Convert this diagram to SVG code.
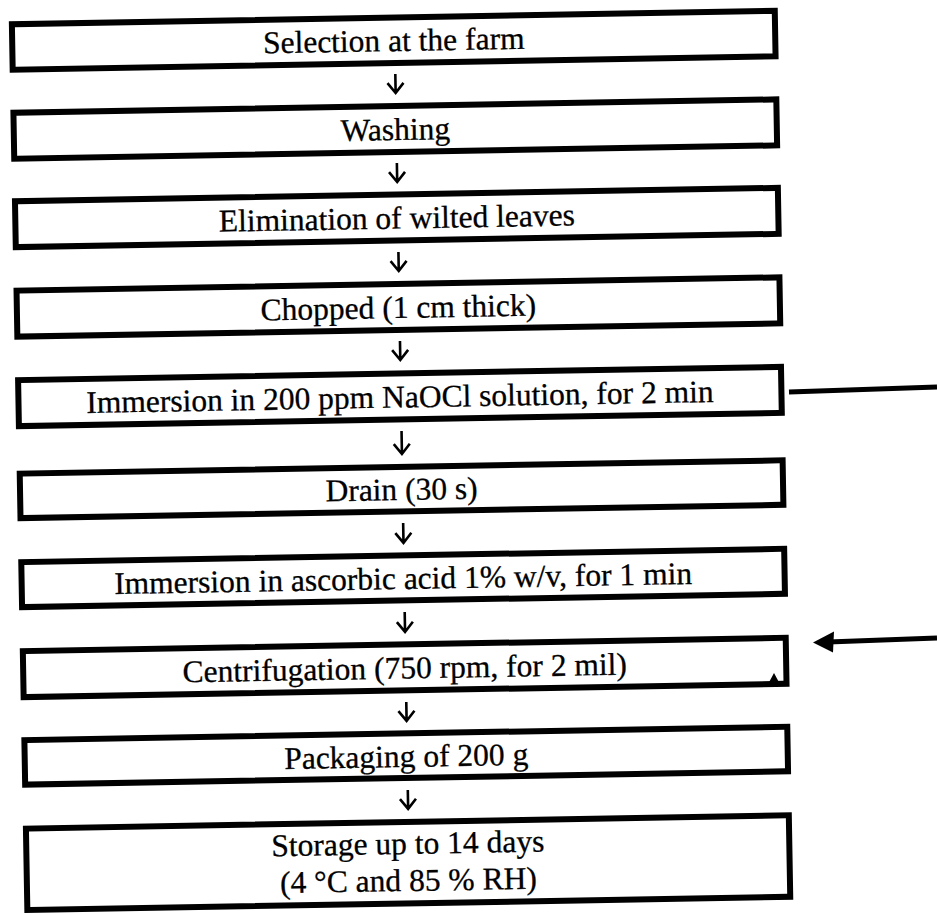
<svg xmlns="http://www.w3.org/2000/svg" width="937" height="915" viewBox="0 0 937 915">
<style>
.box{fill:#fff;stroke:#000;stroke-width:6;stroke-linejoin:miter}
.t{font-family:"Liberation Serif","Times New Roman",serif;font-size:31.5px;fill:#000;stroke:#000;stroke-width:0.3;text-anchor:middle}
.dn{fill:none;stroke:#000;stroke-width:2.6;stroke-linecap:butt;stroke-linejoin:miter}
.side{fill:none;stroke:#000;stroke-width:5}
</style>
<rect x="0" y="0" width="937" height="915" fill="#fff"/>
<g transform="rotate(-1 400 457)">
<g id="n1"><rect class="box" x="19.5" y="17.5" width="763" height="45.5"/><text class="t" x="401" y="51">Selection at the farm</text></g>
<g id="n2"><rect class="box" x="19.5" y="106" width="763" height="46"/><text class="t" x="401" y="140">Washing</text></g>
<g id="n3"><rect class="box" x="19.5" y="194.5" width="763" height="46"/><text class="t" x="401" y="228.5">Elimination of wilted leaves</text></g>
<g id="n4"><rect class="box" x="19.5" y="284" width="763" height="46"/><text class="t" x="401" y="318">Chopped (1 cm thick)</text></g>
<g id="n5"><rect class="box" x="19.5" y="373.5" width="763" height="46"/><text class="t" x="401" y="407.5">Immersion in 200 ppm NaOCl solution, for 2 min</text></g>
<g id="n6"><rect class="box" x="19.5" y="467" width="763" height="44.5"/><text class="t" x="401" y="500">Drain (30 s)</text></g>
<g id="n7"><rect class="box" x="19.5" y="555.5" width="763" height="45"/><text class="t" x="401" y="589">Immersion in ascorbic acid 1% w/v, for 1 min</text></g>
<g id="n8"><rect class="box" x="19.5" y="644.5" width="763" height="46"/><text class="t" x="401" y="678.5">Centrifugation (750 rpm, for 2 mil)</text></g>
<g id="n9"><rect class="box" x="19.5" y="733.5" width="763" height="44.5"/><text class="t" x="401" y="767">Packaging of 200 g</text></g>
<g id="n10"><rect class="box" x="19.5" y="822" width="763" height="81.5"/><text class="t" x="401" y="854">Storage up to 14 days</text><text class="t" x="401" y="891">(4 °C and 85 % RH)</text></g>
</g>
<g id="connectors">
<g transform="rotate(-1 400 457)">
<path class="dn" d="M402,74 V93 M394,83 L402,93 L410,83"/>
<path class="dn" d="M402,163 V182 M394,172 L402,182 L410,172"/>
<path class="dn" d="M402,252 V271 M394,261 L402,271 L410,261"/>
<path class="dn" d="M402,341 V360 M394,350 L402,360 L410,350"/>
<path class="dn" d="M402,431 V454 M394,444 L402,454 L410,444"/>
<path class="dn" d="M402,523 V543 M394,533 L402,543 L410,533"/>
<path class="dn" d="M402,612 V632 M394,622 L402,632 L410,622"/>
<path class="dn" d="M402,702 V721 M394,711 L402,721 L410,711"/>
<path class="dn" d="M402,790 V809 M394,799 L402,809 L410,799"/>
</g>
<line class="side" x1="789" y1="392" x2="937" y2="387"/>
<line class="side" x1="937" y1="638" x2="828" y2="642"/>
<polygon points="813,642.5 834,631.5 833,652.5" fill="#000"/>
<polygon points="774,673 767,686 781,686" fill="#000"/>
</g>
</svg>
